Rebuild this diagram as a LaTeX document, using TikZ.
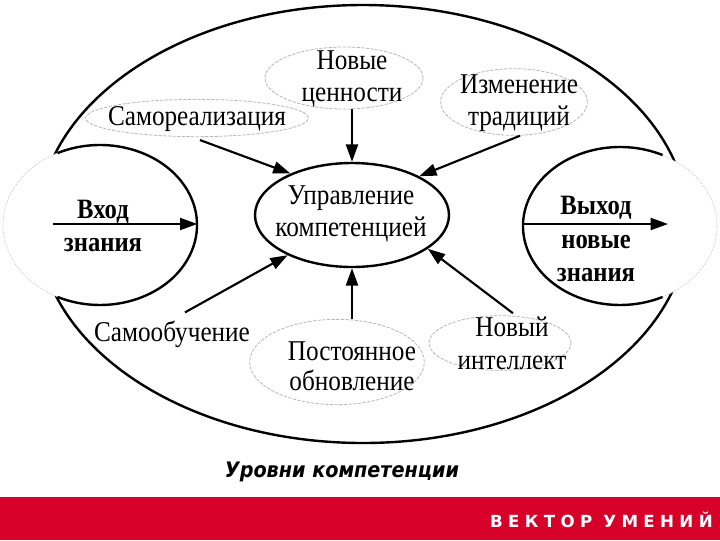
\documentclass[tikz,border=0pt]{standalone}
\usepackage{fontspec}
\setmainfont{Liberation Serif}
\newfontfamily\condfont[FakeStretch=0.88]{Liberation Serif}
\newfontfamily\titlefont[FakeStretch=0.9]{DejaVu Sans}
\newfontfamily\barfont[LetterSpace=32]{DejaVu Sans}
\usetikzlibrary{shapes.geometric,arrows.meta}
\definecolor{vred}{RGB}{214,0,40}
\begin{document}
\begin{tikzpicture}[x=0.75pt,y=-0.75pt,
  conn/.style={line width=1.6pt,-{Triangle[length=13pt,width=9pt]}},
  greyell/.style={ellipse,draw=black!28,dash pattern=on 2.5pt off 1pt,line width=0.6pt,inner sep=0pt},
  blackell/.style={ellipse,draw,line width=1.8pt,inner sep=0pt},
  faintcirc/.style={ellipse,fill=white,draw=black!22,dash pattern=on 1pt off 1pt,line width=0.5pt,inner sep=0pt},
  lbl/.style={font=\condfont\fontsize{21.5}{24.5}\selectfont,align=center,inner sep=0pt},
  boldlbl/.style={font=\condfont\fontsize{21}{25}\selectfont\bfseries,align=center,inner sep=0pt}]
\useasboundingbox (0,0) rectangle (720,540);
\fill[white] (0,0) rectangle (720,540);
% outer ellipse
\node[blackell,minimum width=487.5pt,minimum height=328.5pt] (outer) at (363,224) {};
% input / output circles
\node[faintcirc,minimum width=145.5pt,minimum height=120pt] (vin) at (100,225) {};
\draw[line width=1.8pt] ([shift={(-116:97 and 80)}]vin.center) arc[start angle=-116,end angle=116,x radius=97,y radius=80];
\node[faintcirc,minimum width=145.5pt,minimum height=118pt] (vout) at (620,226) {};
\draw[line width=1.8pt] ([shift={(296:97 and 79)}]vout.center) arc[start angle=296,end angle=64,x radius=97,y radius=79];
% central ellipse
\node[blackell,fill=white,minimum width=145.5pt,minimum height=78pt] (ctrl) at (352,215) {};
% grey ellipses
\node[greyell,minimum width=167pt,minimum height=28pt] (sr) at (197,118) {};
\node[greyell,minimum width=118.5pt,minimum height=46.5pt] (nc) at (344,78) {};
\node[greyell,minimum width=110pt,minimum height=50pt] (it) at (514,102) {};
\node[greyell,minimum width=131pt,minimum height=64pt] (po) at (337,362) {};
\node[greyell,minimum width=106.5pt,minimum height=41pt] (ni) at (500,343) {};
% texts
\node[boldlbl] (vintxt) at (103,226) {Вход\\знания};
\node[boldlbl] (vouttxt) at (596,239) {Выход\\новые\\знания};
\node[lbl] (ctrltxt) at (351,214) {Управление\\компетенцией};
\node[lbl] (srtxt) at (197,119) {Самореализация};
\node[lbl] (nctxt) at (352,79) {Новые\\ценности};
\node[lbl] (ittxt) at (519,103) {Изменение\\традиций};
\node[lbl,font=\condfont\fontsize{21.5}{22.5}\selectfont] (potxt) at (352,366) {Постоянное\\обновление};
\node[lbl] (nitxt) at (512,343) {Новый\\интеллект};
\node[lbl] (so) at (172,334) {Самообучение};
% connectors
\coordinate (vinstart) at (53,224);
\coordinate (voutend) at (668,224);
\draw[conn] (vinstart) -- (vinstart -| vin.east);
\draw[conn] (vout.west |- voutend) -- (voutend);
\draw[conn] ([shift={(3,3)}]sr.south) -- (ctrl.146);
\draw[conn] (ctrl.north |- nc.south) -- (ctrl.north);
\draw[conn] ([shift={(6,0)}]it.south) -- (ctrl.30);
\draw[conn] ([shift={(13,-8)}]so.north) -- (ctrl.212);
\draw[conn] (ctrl.south |- po.north) -- (ctrl.south);
\draw[conn] ([shift={(13,-2)}]ni.north) -- (ctrl.-24);
% caption and bar
\node[font=\titlefont\fontsize{16}{18}\selectfont\bfseries\itshape,inner sep=0pt] (title) at (342,472) {Уровни компетенции};
\fill[vred] (0,497) rectangle (720,540);
\node[font=\barfont\fontsize{12.5}{14}\selectfont\bfseries,text=white,anchor=east,inner sep=0pt] (bar) at (713,520) {ВЕКТОР УМЕНИЙ};
\end{tikzpicture}
\end{document}
